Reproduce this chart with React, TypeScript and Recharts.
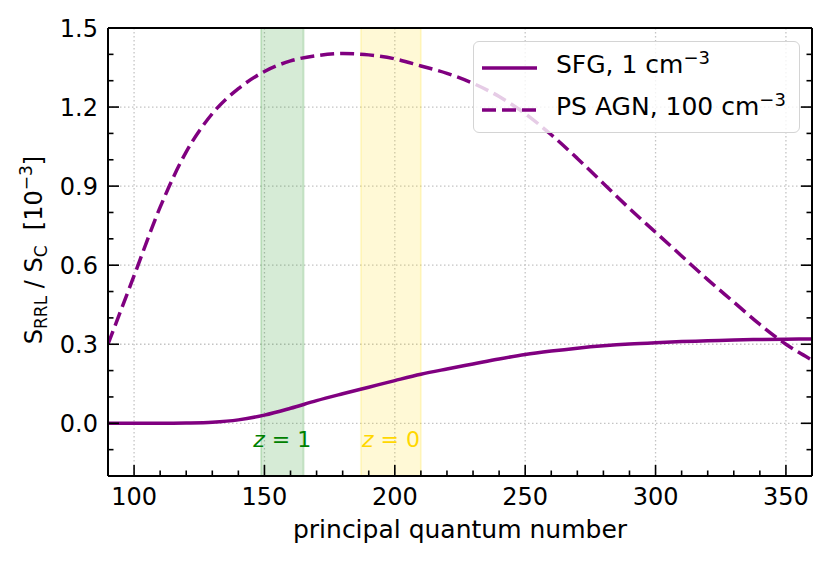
import React from "react";
import {
  LineChart,
  Line,
  XAxis,
  YAxis,
  CartesianGrid,
  ReferenceArea,
  Legend,
} from "recharts";

// principal quantum number grid
const quantumN = [
  90, 100, 110, 120, 130, 140, 150, 160, 170, 180, 190, 200, 210, 220, 230,
  240, 250, 260, 270, 280, 290, 300, 310, 320, 330, 340, 350, 360,
];
// S_RRL / S_C in units of 1e-3
const sfgValues = [
  0.0, 0.0, 0.0, 0.001, 0.004, 0.013, 0.031, 0.057, 0.086, 0.112, 0.137,
  0.162, 0.186, 0.206, 0.225, 0.244, 0.261, 0.274, 0.285, 0.294, 0.301, 0.306,
  0.31, 0.313, 0.316, 0.318, 0.319, 0.32,
];
const agnValues = [
  0.3, 0.56, 0.82, 1.03, 1.175, 1.27, 1.335, 1.375, 1.395, 1.403, 1.398,
  1.383, 1.356, 1.328, 1.29, 1.24, 1.175, 1.095, 1.005, 0.91, 0.815, 0.725,
  0.635, 0.545, 0.46, 0.375, 0.3, 0.24,
];

const xMajorTicks = [100, 150, 200, 250, 300, 350];
const xMinorTicks = [
  110, 120, 130, 140, 160, 170, 180, 190, 210, 220, 230, 240, 260, 270, 280,
  290, 310, 320, 330, 340,
];
const yMajorTicks = [0, 0.3, 0.6, 0.9, 1.2, 1.5];
const yMinorTicks = [-0.1, 0.1, 0.2, 0.4, 0.5, 0.7, 0.8, 1.0, 1.1, 1.3, 1.4];

// redshift bands (range in n)
const bandRedshift = ["1", "0"];
const bandStart = [148.7, 187];
const bandEnd = [165, 210];
const bandColors = ["#008000", "#FFD700"];

const seriesLabels = ["SFG, 1 cm", "PS AGN, 100 cm"];

const FONT = "'DejaVu Sans', sans-serif";
const PURPLE = "#800080";
const DASH = "14 6";

const data = quantumN.map((n, i) => ({ n, sfg: sfgValues[i], agn: agnValues[i] }));
const allXTicks = [...xMajorTicks, ...xMinorTicks].sort((a, b) => a - b);
const allYTicks = [...yMajorTicks, ...yMinorTicks].sort((a, b) => a - b);

const isMajor = (v: number, majors: number[]) =>
  majors.some((m) => Math.abs(m - v) < 1e-6);

function BottomTick({ x, y, payload }: any) {
  const major = isMajor(payload.value, xMajorTicks);
  return (
    <g>
      <line x1={x} y1={y} x2={x} y2={y - (major ? 11 : 5.5)} stroke="#000" strokeWidth={1.6} />
      {major && (
        <text x={x} y={y + 28.5} textAnchor="middle" fontSize={24} fontFamily={FONT} fill="#000">
          {payload.value}
        </text>
      )}
    </g>
  );
}

function TopTick({ x, y, payload }: any) {
  const major = isMajor(payload.value, xMajorTicks);
  return <line x1={x} y1={y} x2={x} y2={y + (major ? 11 : 5.5)} stroke="#000" strokeWidth={1.6} />;
}

function LeftTick({ x, y, payload }: any) {
  const major = isMajor(payload.value, yMajorTicks);
  return (
    <g>
      <line x1={x} y1={y} x2={x + (major ? 11 : 5.5)} y2={y} stroke="#000" strokeWidth={1.6} />
      {major && (
        <text x={x - 10} y={y + 8.5} textAnchor="end" fontSize={24} fontFamily={FONT} fill="#000">
          {Number(payload.value).toFixed(1)}
        </text>
      )}
    </g>
  );
}

function RightTick({ x, y, payload }: any) {
  const major = isMajor(payload.value, yMajorTicks);
  return <line x1={x} y1={y} x2={x - (major ? 11 : 5.5)} y2={y} stroke="#000" strokeWidth={1.6} />;
}

function XTitle({ viewBox }: any) {
  return (
    <text
      x={viewBox.x + viewBox.width / 2}
      y={viewBox.y + 61.5}
      textAnchor="middle"
      fontSize={25}
      fontFamily={FONT}
      fill="#000"
    >
      principal quantum number
    </text>
  );
}

function YTitle({ viewBox }: any) {
  const cy = viewBox.y + viewBox.height / 2 - 2;
  return (
    <text
      transform={`translate(42, ${cy}) rotate(-90)`}
      textAnchor="middle"
      fontSize={24}
      fontFamily={FONT}
      fill="#000"
      style={{ whiteSpace: "pre" }}
    >
      S
      <tspan fontSize={17} dy={5}>RRL</tspan>
      <tspan dy={-5}>{" / S"}</tspan>
      <tspan fontSize={17} dy={5}>C</tspan>
      <tspan dy={-5}>{"  [10"}</tspan>
      <tspan fontSize={17} dy={-10}>−3</tspan>
      <tspan dy={10}>]</tspan>
    </text>
  );
}

function BandLabel({ viewBox, z, color }: any) {
  return (
    <text
      x={viewBox.x + viewBox.width / 2}
      y={viewBox.y + viewBox.height - 29}
      textAnchor="middle"
      fontSize={22}
      fontFamily={FONT}
      fill={color}
    >
      <tspan fontStyle="italic">z</tspan>
      {" = " + z}
    </text>
  );
}

function LegendBox() {
  const rowCenters = [25.7, 68];
  return (
    <div
      style={{
        boxSizing: "border-box",
        width: 327,
        height: 92,
        border: "1.5px solid #d4d4d4",
        borderRadius: 6,
        background: "rgba(255,255,255,0.8)",
        fontFamily: FONT,
        fontSize: 25,
        position: "relative",
        color: "#000",
      }}
    >
      {seriesLabels.map((lab, i) => (
        <div
          key={lab}
          style={{
            position: "absolute",
            left: 8,
            top: rowCenters[i] - 15,
            height: 30,
            display: "flex",
            alignItems: "center",
          }}
        >
          <svg width={56} height={10} style={{ display: "block" }}>
            <line
              x1={0}
              x2={55}
              y1={5}
              y2={5}
              stroke={PURPLE}
              strokeWidth={3.5}
              strokeDasharray={i === 1 ? DASH : undefined}
            />
          </svg>
          <span style={{ marginLeft: 18, whiteSpace: "pre", lineHeight: "30px", position: "relative", top: -2 }}>
            {lab}
            <span style={{ fontSize: 18, position: "relative", top: -9 }}>−3</span>
          </span>
        </div>
      ))}
    </div>
  );
}

export default function App() {
  return (
    <div style={{ position: "absolute", left: 0, top: 0, width: 830, height: 562, background: "#fff" }}>
      <LineChart width={830} height={562} data={data} margin={{ top: 0, right: 0, bottom: 0, left: 0 }}>
        <CartesianGrid
          horizontalValues={yMajorTicks}
          verticalValues={xMajorTicks}
          stroke="#c4c4c4"
          strokeWidth={1.3}
          strokeDasharray="1.5 2.5"
        />
        {bandRedshift.map((z, i) => (
          <ReferenceArea
            key={z}
            x1={bandStart[i]}
            x2={bandEnd[i]}
            fill={bandColors[i]}
            fillOpacity={0.16}
            stroke={bandColors[i]}
            strokeOpacity={0.16}
            strokeWidth={2}
            label={(props: any) => <BandLabel {...props} z={z} color={bandColors[i]} />}
          />
        ))}
        <XAxis
          dataKey="n"
          type="number"
          domain={[90, 360]}
          ticks={allXTicks}
          interval={0}
          height={86}
          tickSize={0}
          tickMargin={0}
          tickLine={false}
          axisLine={{ stroke: "#000", strokeWidth: 2 }}
          tick={<BottomTick />}
          label={(props: any) => <XTitle {...props} />}
          allowDataOverflow
        />
        <XAxis
          xAxisId="top"
          orientation="top"
          type="number"
          domain={[90, 360]}
          ticks={allXTicks}
          interval={0}
          height={28}
          tickSize={0}
          tickMargin={0}
          tickLine={false}
          axisLine={{ stroke: "#000", strokeWidth: 2 }}
          tick={<TopTick />}
          allowDataOverflow
        />
        <YAxis
          type="number"
          domain={[-0.2, 1.5]}
          ticks={allYTicks}
          interval={0}
          width={108}
          tickSize={0}
          tickMargin={0}
          tickLine={false}
          axisLine={{ stroke: "#000", strokeWidth: 2 }}
          tick={<LeftTick />}
          label={(props: any) => <YTitle {...props} />}
          allowDataOverflow
        />
        <YAxis
          yAxisId="right"
          orientation="right"
          type="number"
          domain={[-0.2, 1.5]}
          ticks={allYTicks}
          interval={0}
          width={18}
          tickSize={0}
          tickMargin={0}
          tickLine={false}
          axisLine={{ stroke: "#000", strokeWidth: 2 }}
          tick={<RightTick />}
          allowDataOverflow
        />
        <Line
          dataKey="sfg"
          name={seriesLabels[0]}
          type="monotone"
          stroke={PURPLE}
          strokeWidth={3.5}
          dot={false}
          isAnimationActive={false}
        />
        <Line
          dataKey="agn"
          name={seriesLabels[1]}
          type="monotone"
          stroke={PURPLE}
          strokeWidth={3.5}
          strokeDasharray={DASH}
          dot={false}
          isAnimationActive={false}
        />
        <Legend
          layout="horizontal"
          verticalAlign="middle"
          align="center"
          wrapperStyle={{ left: 473, top: 41, width: 327, height: 92 }}
          content={() => <LegendBox />}
        />
      </LineChart>
    </div>
  );
}
